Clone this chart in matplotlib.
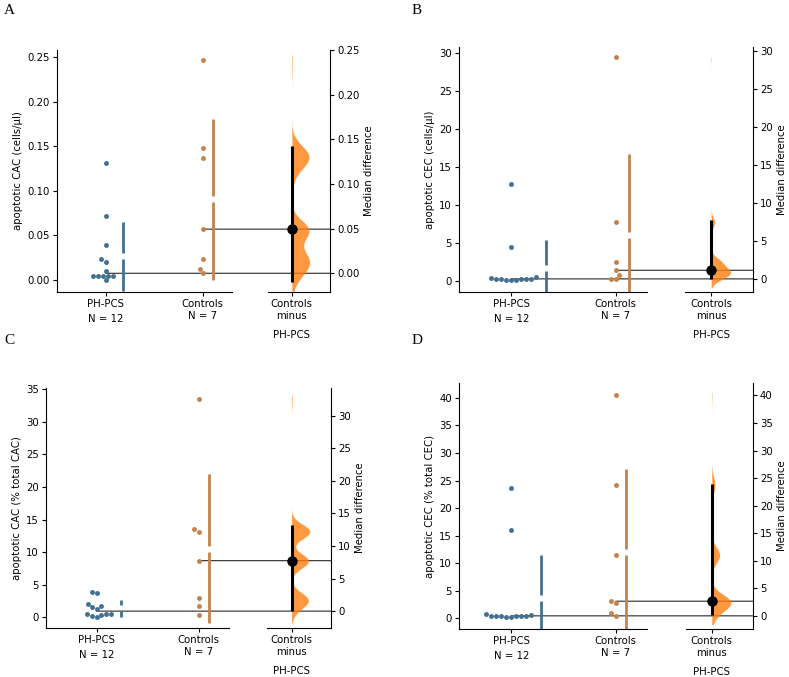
import colorsys
from math import comb, factorial

import numpy as np
import matplotlib

matplotlib.use("Agg")
import matplotlib.pyplot as plt
from matplotlib.patches import ConnectionPatch
from matplotlib.ticker import MultipleLocator

W, H, DPI = 789, 677, 100

# ---- data ----
groups = ["PH-PCS", "Controls"]
letters = ["A", "B", "C", "D"]
ylabels = ["apoptotic CAC (cells/µl)", "apoptotic CEC (cells/µl)",
           "apoptotic CAC (% total CAC)", "apoptotic CEC (% total CEC)"]

ph_A = [0.131, 0.072, 0.039, 0.023, 0.020, 0.010, 0.005, 0.005, 0.005, 0.005, 0.005, 0.000]
ctrl_A = [0.247, 0.148, 0.137, 0.057, 0.024, 0.012, 0.0075]
ph_B = [12.7, 4.5, 0.5, 0.35, 0.3, 0.3, 0.25, 0.2, 0.2, 0.15, 0.15, 0.1]
ctrl_B = [29.4, 7.7, 2.5, 1.4, 0.8, 0.3, 0.3]
ph_C = [3.9, 3.8, 2.0, 1.75, 1.6, 1.35, 0.55, 0.45, 0.45, 0.35, 0.2, 0.05]
ctrl_C = [33.5, 13.5, 13.1, 8.7, 2.9, 1.8, 0.3]
ph_D = [23.7, 16.0, 0.75, 0.6, 0.5, 0.45, 0.45, 0.4, 0.4, 0.35, 0.3, 0.3]
ctrl_D = [40.6, 24.2, 11.5, 3.1, 2.8, 0.9, 0.5]

# bootstrap CI of the median difference, and extent of the bootstrap violin
ci_A, ci_B, ci_C, ci_D = (-0.0097, 0.143), (-0.05, 7.7), (0.05, 13.2), (0.1, 24.0)
span_A, span_B, span_C, span_D = (-0.022, 0.245), (-1.2, 29.1), (-2.0, 33.2), (-1.6, 40.5)

# ---- layout (pixels: left, top, right, bottom) ----
panels = [
    dict(ph=ph_A, ctrl=ctrl_A, ci=ci_A, span=span_A, main=(57, 50, 232, 292), diff=(268, 50, 330, 292),
         ylim=(-0.01345, 0.2578), step=0.05, letter_xy=(4, 4)),
    dict(ph=ph_B, ctrl=ctrl_B, ci=ci_B, span=span_B, main=(459, 47, 647, 292), diff=(685, 47, 753, 292),
         ylim=(-1.45, 30.75), step=5, letter_xy=(412, 4)),
    dict(ph=ph_C, ctrl=ctrl_C, ci=ci_C, span=span_C, main=(46, 388, 229, 628), diff=(267, 388, 331, 628),
         ylim=(-1.64, 35.2), step=5, letter_xy=(4, 334)),
    dict(ph=ph_D, ctrl=ctrl_D, ci=ci_D, span=span_D, main=(459, 383, 647, 629), diff=(686, 383, 753, 629),
         ylim=(-1.94, 42.7), step=5, letter_xy=(412, 334)),
]


def desat(c, f=0.5):
    r, g, b = matplotlib.colors.to_rgb(c)
    h, l, s = colorsys.rgb_to_hls(r, g, b)
    return colorsys.hls_to_rgb(h, l, s * f)


BLUE, ORANGE = desat("tab:blue"), desat("tab:orange")
VIOLIN = "tab:orange"
FS = 7.3


def box(px):
    l, t, r, b = px
    return [l / W, 1 - b / H, (r - l) / W, (b - t) / H]


def boot_median_dist(vals):
    # exact distribution of the bootstrap median (no resampling needed)
    x = np.sort(vals)
    n, m = len(x), len(x) // 2
    f = factorial
    out = {}

    def add(v, p):
        out[round(float(v), 10)] = out.get(round(float(v), 10), 0.0) + p

    if n % 2:
        def cdf(k):
            q = k / n
            return sum(comb(n, j) * q ** j * (1 - q) ** (n - j) for j in range(m + 1, n + 1))
        for k in range(1, n + 1):
            add(x[k - 1], cdf(k) - cdf(k - 1))
    else:
        for a in range(1, n + 1):
            pa, r = (a - 1) / n, (n - a) / n
            s = 0.0
            for i in range(0, m):
                for c in range(m + 1 - i, n - i + 1):
                    s += f(n) / (f(i) * f(c) * f(n - i - c)) * pa ** i * (1 / n) ** c * r ** (n - i - c)
            add(x[a - 1], s)
            for b in range(a + 1, n + 1):
                rb = (n - b) / n
                s = 0.0
                for i in range(0, m):
                    for j in range(1, n - m + 1):
                        s += (f(n) / (f(i) * f(m - i) * f(j) * f(n - m - j))
                              * pa ** i * (1 / n) ** (m - i) * (1 / n) ** j * rb ** (n - m - j))
                add((x[a - 1] + x[b - 1]) / 2, s)
    v = np.array(list(out.keys()))
    p = np.array(list(out.values()))
    return v, p / p.sum()


def swarm(vals, px_per_y, d=5.0):
    y = np.asarray(vals, float) * px_per_y
    xs = np.zeros(len(y))
    placed = []
    for idx in np.argsort(y, kind="stable"):
        yi = y[idx]
        near = [(px, py) for px, py in placed if abs(py - yi) < d]
        cands = [0.0]
        for px, py in near:
            dx = np.sqrt(d * d - (py - yi) ** 2)
            cands += [px - dx, px + dx]
        cands.sort(key=lambda c: (round(abs(c), 6), c))
        for c in cands:
            if all((c - px) ** 2 + (yi - py) ** 2 >= d * d - 1e-6 for px, py in near):
                xs[idx] = c
                placed.append((c, yi))
                break
    return xs


plt.rcParams["font.family"] = "DejaVu Sans"
fig = plt.figure(figsize=(W / DPI, H / DPI), dpi=DPI)

for pnl, letter, ylab in zip(panels, letters, ylabels):
    ph, ctrl = np.array(pnl["ph"]), np.array(pnl["ctrl"])
    ref_med, test_med = np.median(ph), np.median(ctrl)
    lo, hi = pnl["ylim"]

    ax = fig.add_axes(box(pnl["main"]))
    cax = fig.add_axes(box(pnl["diff"]))
    ax.set_xlim(-0.5, 1.3)
    ax.set_ylim(lo, hi)
    cax.set_xlim(-0.5, 0.8)
    cax.set_ylim(lo - ref_med, hi - ref_med)

    l, t, r, b = pnl["main"]
    px_y = (b - t) / (hi - lo)
    px_x = (r - l) / 1.8

    for pos, vals, col in [(0, ph, BLUE), (1, ctrl, ORANGE)]:
        off = swarm(vals, px_y) / px_x
        ax.scatter(pos + off, vals, s=12.5, color=col, lw=0, zorder=3)
        mu, sd = vals.mean(), vals.std(ddof=1)
        gap = 3 / px_y
        xl = pos + off.max() + 10 / px_x
        ax.plot([xl, xl], [mu - sd, mu - gap], color=col, lw=2, solid_capstyle="butt", zorder=2)
        ax.plot([xl, xl], [mu + gap, mu + sd], color=col, lw=2, solid_capstyle="butt", zorder=2)

    # bootstrap distribution of the median difference
    tv, tp = boot_median_dist(ctrl)
    rv, rp = boot_median_dist(ph)
    dv = (tv[:, None] - rv[None, :]).ravel()
    dp = (tp[:, None] * rp[None, :]).ravel()
    mu = (dv * dp).sum()
    bw = np.sqrt((dp * (dv - mu) ** 2).sum()) * 5000 ** (-0.2)
    grid = np.linspace(*pnl["span"], 200)
    dens = (dp[None, :] * np.exp(-0.5 * ((grid[:, None] - dv[None, :]) / bw) ** 2)).sum(1)
    dens = dens / dens.max() * 0.37
    cax.fill_betweenx(grid, 0, dens, color=VIOLIN, alpha=0.8, lw=0, zorder=1)
    cax.plot([0, 0], pnl["ci"], color="black", lw=2.2, solid_capstyle="butt", zorder=3)
    cax.plot([0], [test_med - ref_med], "o", color="black", ms=6.5, zorder=4)

    # median reference lines spanning both axes
    for xa, ya, yb in [(0, ref_med, 0.0), (1, test_med, test_med - ref_med)]:
        con = ConnectionPatch(xyA=(xa, ya), coordsA=ax.transData, xyB=(0.8, yb), coordsB=cax.transData,
                              arrowstyle="-", color="black", lw=0.9, alpha=0.75, zorder=0)
        fig.add_artist(con)

    # axes styling
    for a in (ax, cax):
        a.spines["top"].set_visible(False)
        a.tick_params(labelsize=FS, length=3, pad=2)
        a.yaxis.set_major_locator(MultipleLocator(pnl["step"]))
        a.patch.set_alpha(0)
    ax.spines["right"].set_visible(False)
    cax.spines["left"].set_visible(False)
    cax.yaxis.tick_right()
    cax.yaxis.set_label_position("right")

    ax.set_xticks([0, 1])
    ax.set_xticklabels([f"{g}\nN = {len(v)}" for g, v in zip(groups, (ph, ctrl))])
    ax.get_xticklabels()[0].set_linespacing(1.65)
    cax.set_xticks([0])
    cax.set_xticklabels([f"{groups[1]}\nminus"])
    cax.annotate(groups[0], xy=(0, 0), xycoords=("data", "axes fraction"), xytext=(0, -31),
                 textcoords="offset points", ha="center", va="center", fontsize=FS)
    ax.set_ylabel(ylab, fontsize=FS, labelpad=3)
    cax.set_ylabel("Median difference", fontsize=FS, labelpad=3)

    lx, ly = pnl["letter_xy"]
    fig.text(lx / W, 1 - ly / H, letter, family="Liberation Serif", fontsize=11, va="top", ha="left")

fig.savefig("out.png", dpi=DPI)
